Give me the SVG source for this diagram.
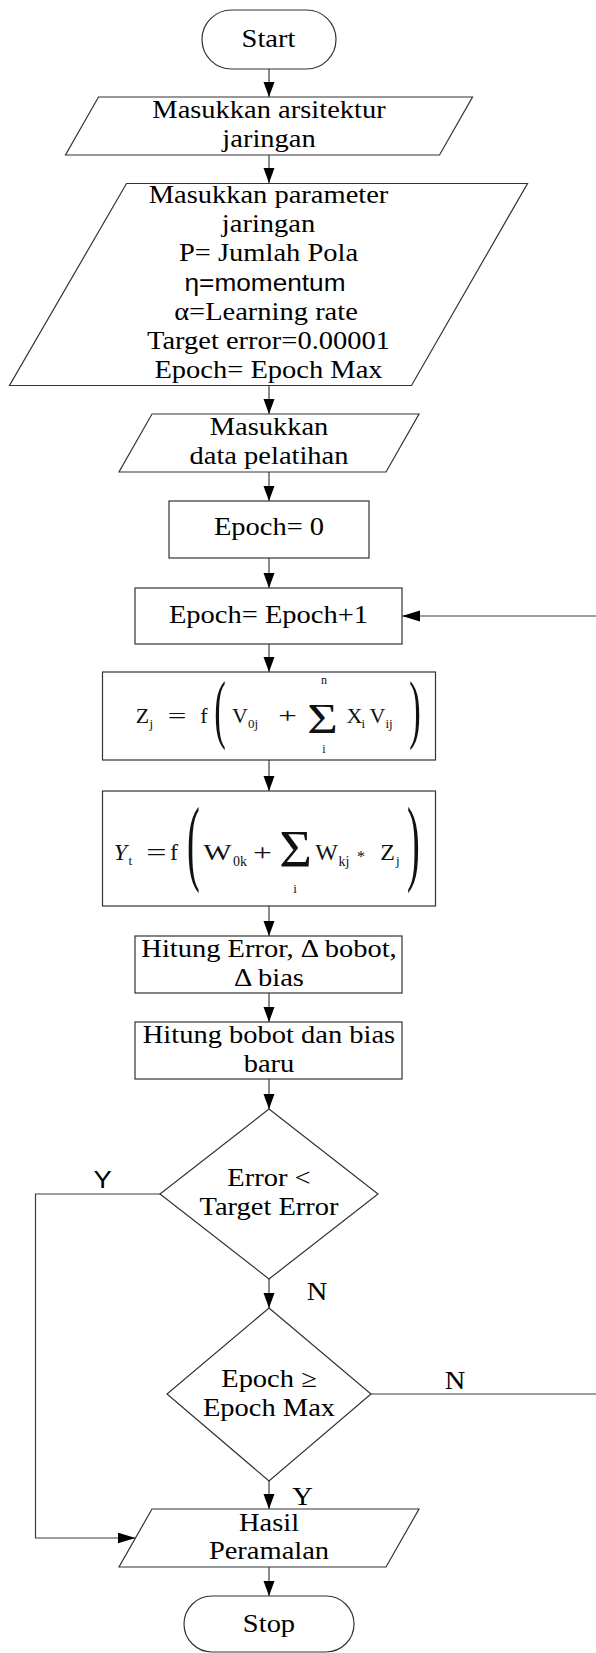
<svg xmlns="http://www.w3.org/2000/svg" width="596" height="1653" viewBox="0 0 596 1653">
<defs>
<style>
.shape{fill:#fff;stroke:#333;stroke-width:1.2}
.conn{fill:none;stroke:#3c3c3c;stroke-width:1.2}
.t{font-family:"Liberation Serif","Times New Roman",serif;font-size:25px;text-anchor:middle;fill:#000}
.s{font-family:"Liberation Sans",Arial,sans-serif;font-size:23px;text-anchor:middle;fill:#000}
.m{font-family:"Liberation Serif","Times New Roman",serif;font-size:22px;text-anchor:middle;fill:#111}
.m2{font-family:"Liberation Serif","Times New Roman",serif;font-size:24px;text-anchor:middle;fill:#111}
.sb{font-family:"Liberation Serif","Times New Roman",serif;font-size:13px;text-anchor:start;fill:#111}
.lim{font-family:"Liberation Serif","Times New Roman",serif;font-size:12px;text-anchor:middle;fill:#111}
</style>
<marker id="arrV" markerUnits="userSpaceOnUse" markerWidth="16" markerHeight="12" refX="15" refY="5.5" orient="auto"><path d="M0,0 L15,5.5 L0,11 z" fill="#000"/></marker>
<marker id="arrH" markerUnits="userSpaceOnUse" markerWidth="19" markerHeight="12" refX="18" refY="5.5" orient="auto"><path d="M0,0 L18,5.5 L0,11 z" fill="#000"/></marker>
</defs>
<rect width="596" height="1653" fill="#fff"/>

<g id="connectors">
<path class="conn" d="M269,69 V97" marker-end="url(#arrV)"/>
<path class="conn" d="M269,155 V183" marker-end="url(#arrV)"/>
<path class="conn" d="M269,385 V414" marker-end="url(#arrV)"/>
<path class="conn" d="M269,472 V501" marker-end="url(#arrV)"/>
<path class="conn" d="M269,558 V588" marker-end="url(#arrV)"/>
<path class="conn" d="M269,644 V672" marker-end="url(#arrV)"/>
<path class="conn" d="M269,760 V791" marker-end="url(#arrV)"/>
<path class="conn" d="M269,906 V936" marker-end="url(#arrV)"/>
<path class="conn" d="M269,993 V1022" marker-end="url(#arrV)"/>
<path class="conn" d="M269,1079 V1109" marker-end="url(#arrV)"/>
<path class="conn" d="M269,1279 V1308" marker-end="url(#arrV)"/>
<path class="conn" d="M269,1481 V1509" marker-end="url(#arrV)"/>
<path class="conn" d="M269,1567 V1596" marker-end="url(#arrV)"/>
<path class="conn" d="M371,1394 H600 V616 H402" marker-end="url(#arrH)"/>
<path class="conn" d="M160,1194 H35.5 V1538 H135.5" marker-end="url(#arrH)"/>
<text class="s" transform="translate(102.6 1188) scale(1.14 1)" style="font-size:24px">Y</text>
<text class="t" transform="translate(317 1300) scale(1.14 1)">N</text>
<text class="t" transform="translate(455 1389) scale(1.14 1)">N</text>
<text class="t" transform="translate(302.5 1505) scale(1.14 1)">Y</text>
</g>

<g id="start">
<rect class="shape" x="202" y="10" width="134" height="59" rx="29.5"/>
<text class="t" transform="translate(268.5 47.3) scale(1.14 1)">Start</text>
</g>

<g id="input-arsitektur">
<polygon class="shape" points="98.5,97 472.5,97 439.5,155 65.5,155"/>
<text class="t" transform="translate(269 118) scale(1.14 1)">Masukkan arsitektur</text>
<text class="t" transform="translate(269 146.5) scale(1.14 1)">jaringan</text>
</g>

<g id="input-parameter">
<polygon class="shape" points="126.5,183.5 527.5,183.5 411.5,385.5 9.5,385.5"/>
<text class="t" transform="translate(268.5 203) scale(1.14 1)">Masukkan parameter</text>
<text class="t" transform="translate(268.5 232) scale(1.14 1)">jaringan</text>
<text class="t" transform="translate(268.5 261) scale(1.14 1)">P= Jumlah Pola</text>
<text class="s" transform="translate(265 290.5) scale(1.14 1)">η=momentum</text>
<text class="t" transform="translate(266 320) scale(1.14 1)">α=Learning rate</text>
<text class="t" transform="translate(268.5 349) scale(1.14 1)">Target error=0.00001</text>
<text class="t" transform="translate(268.5 378) scale(1.14 1)">Epoch= Epoch Max</text>
</g>

<g id="input-data">
<polygon class="shape" points="152,414 419,414 386,472 119,472"/>
<text class="t" transform="translate(269 435) scale(1.14 1)">Masukkan</text>
<text class="t" transform="translate(269 464.3) scale(1.14 1)">data pelatihan</text>
</g>

<g id="epoch-init">
<rect class="shape" x="169" y="501" width="200" height="57"/>
<text class="t" transform="translate(269 535.3) scale(1.14 1)">Epoch= 0</text>
</g>

<g id="epoch-inc">
<rect class="shape" x="135" y="588" width="267" height="56"/>
<text class="t" transform="translate(268.5 622.7) scale(1.14 1)">Epoch= Epoch+1</text>
</g>

<g id="formula-z">
<rect class="shape" x="102.5" y="672" width="333" height="88"/>
<text class="m" x="142.5" y="723">Z</text>
<text class="sb" x="149.5" y="728">j</text>
<text class="m" transform="translate(177 723) scale(1.5 1)">=</text>
<text class="m" x="204" y="723">f</text>
<text class="m" transform="translate(220 734) scale(0.45 1)" style="font-size:77px">(</text>
<text class="m" x="240" y="723">V</text>
<text class="sb" x="248" y="728">0j</text>
<text class="m" transform="translate(287.5 723) scale(1.5 1)">+</text>
<text class="m" transform="translate(322.5 733) scale(1.25 1)" style="font-size:42px">Σ</text>
<text class="lim" x="324" y="684">n</text>
<text class="lim" x="324" y="753">i</text>
<text class="m" x="354.5" y="723">X</text>
<text class="sb" x="361.5" y="728">i</text>
<text class="m" x="377.5" y="723">V</text>
<text class="sb" x="385.5" y="728">ij</text>
<text class="m" transform="translate(415 734) scale(0.45 1)" style="font-size:77px">)</text>
</g>

<g id="formula-y">
<rect class="shape" x="102.5" y="791" width="333" height="115"/>
<text class="m2" x="120.5" y="860" font-style="italic">Y</text>
<text class="sb" x="128.5" y="865">t</text>
<text class="m2" transform="translate(156.5 860) scale(1.5 1)">=</text>
<text class="m2" x="174" y="860">f</text>
<text class="m2" transform="translate(193.5 873) scale(0.4 1)" style="font-size:96px">(</text>
<text class="m2" transform="translate(217.5 860) scale(1.25 1)">W</text>
<text class="sb" x="233" y="866" style="font-size:14px">0k</text>
<text class="m2" transform="translate(262.5 860) scale(1.4 1)">+</text>
<text class="m2" transform="translate(295.5 867) scale(1.08 1)" style="font-size:52px">Σ</text>
<text class="lim" x="295" y="893" style="font-size:13px">i</text>
<text class="m2" x="326.5" y="860">W</text>
<text class="sb" x="338.5" y="866" style="font-size:14px">kj</text>
<text class="m2" x="361" y="862" style="font-size:16px">*</text>
<text class="m2" x="387.5" y="860">Z</text>
<text class="sb" x="396" y="865">j</text>
<text class="m2" transform="translate(413.5 873) scale(0.4 1)" style="font-size:96px">)</text>
</g>

<g id="hitung-error">
<rect class="shape" x="135" y="936" width="267" height="57"/>
<text class="t" transform="translate(269 957.3) scale(1.14 1)">Hitung Error, Δ bobot,</text>
<text class="t" transform="translate(269 986) scale(1.14 1)">Δ bias</text>
</g>

<g id="hitung-bobot">
<rect class="shape" x="135" y="1022" width="267" height="57"/>
<text class="t" transform="translate(269 1043.3) scale(1.14 1)">Hitung bobot dan bias</text>
<text class="t" transform="translate(269 1071.7) scale(1.14 1)">baru</text>
</g>

<g id="decision-error">
<polygon class="shape" points="269,1109 378,1194 269,1279 160,1194"/>
<text class="t" transform="translate(269 1186) scale(1.14 1)">Error &lt;</text>
<text class="t" transform="translate(269 1215) scale(1.14 1)">Target Error</text>
</g>

<g id="decision-epoch">
<polygon class="shape" points="269,1308 371,1394 269,1481 167,1394"/>
<text class="t" transform="translate(269 1387.3) scale(1.14 1)">Epoch ≥</text>
<text class="t" transform="translate(269 1416) scale(1.14 1)">Epoch Max</text>
</g>

<g id="output-hasil">
<polygon class="shape" points="152,1509 419,1509 386,1567 119,1567"/>
<text class="t" transform="translate(269 1530.7) scale(1.14 1)">Hasil</text>
<text class="t" transform="translate(269 1559.3) scale(1.14 1)">Peramalan</text>
</g>

<g id="stop">
<rect class="shape" x="184" y="1596" width="170" height="56" rx="28"/>
<text class="t" transform="translate(269 1631.7) scale(1.14 1)">Stop</text>
</g>
</svg>
